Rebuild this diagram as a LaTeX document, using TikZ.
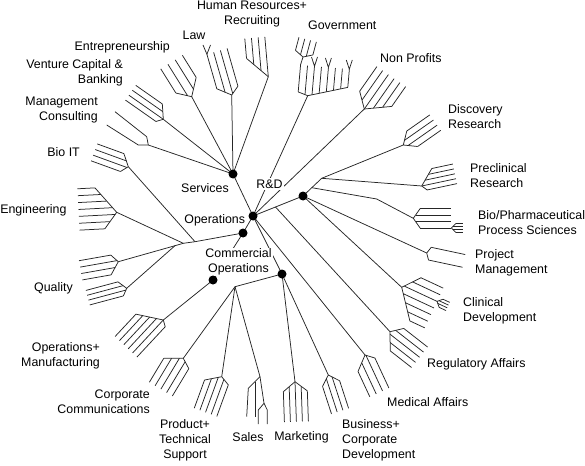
\documentclass[tikz,border=0pt]{standalone}
\usepackage{fontspec}
\setmainfont{Liberation Sans}
\usetikzlibrary{calc}
\tikzset{
  tree/.style={line width=0.75pt, black!85, line join=round},
  dot/.style={circle, fill=black, inner sep=0pt, minimum size=9pt},
  lbl/.style={font=\fontsize{12.4}{15}\selectfont, inner sep=0pt},
  cover/.style={fill=white, inner sep=1.2pt}
}
% #1 name, #2 x, #3 y, #4 leaf angle, #5 leaves, #6 spacing, #7 centre index, #8 spine slope, #9 tip distance
\newcommand\fan[9]{%
  \coordinate (#1) at (#2,#3);%
  \pgfmathsetmacro\fanUx{cos(#4)}%
  \pgfmathsetmacro\fanUy{-sin(#4)}%
  \pgfmathsetmacro\fanVx{-sin(#4)}%
  \pgfmathsetmacro\fanVy{-cos(#4)}%
  \pgfmathsetmacro\fanPa{(0-#7)*#6}%
  \pgfmathsetmacro\fanPb{(#5-1-#7)*#6}%
  \pgfmathsetmacro\fanAa{#8*abs(\fanPa)}%
  \pgfmathsetmacro\fanAb{#8*abs(\fanPb)}%
  \draw[tree] ({#2+\fanAa*\fanUx+\fanPa*\fanVx},{#3+\fanAa*\fanUy+\fanPa*\fanVy}) -- (#1) -- ({#2+\fanAb*\fanUx+\fanPb*\fanVx},{#3+\fanAb*\fanUy+\fanPb*\fanVy});%
  \foreach \fanI in {1,...,#5}{%
    \pgfmathsetmacro\fanP{(\fanI-1-#7)*#6}%
    \pgfmathsetmacro\fanA{#8*abs(\fanP)}%
    \draw[tree] ({#2+\fanA*\fanUx+\fanP*\fanVx},{#3+\fanA*\fanUy+\fanP*\fanVy}) -- ({#2+#9*\fanUx+\fanP*\fanVx},{#3+#9*\fanUy+\fanP*\fanVy});%
  }%
}
\begin{document}
\begin{tikzpicture}[x=1pt,y=-1pt]
\useasboundingbox (0,0) rectangle (585,465);
% inner nodes
\coordinate (C0) at (253,216);
\coordinate (S) at (233,174);
\coordinate (R) at (303,196);
\coordinate (O) at (243,233);
\coordinate (CO) at (282,274);
\coordinate (M) at (213,280);
\coordinate (B1) at (321.7,178.3);
\coordinate (P1) at ($(C0)!0.45!(R)$);
\coordinate (P2) at ($(R)!0.47!(B1)$);
\coordinate (BP1) at (376.7,199);
\coordinate (Q1) at (195,241.7);
\coordinate (Q2) at (183.3,243.3);
\coordinate (Q3) at (175,245.7);
\coordinate (K) at (235,286.7);

% leaf clusters
\fan{jEnt}{191.7}{96.7}{122}{4}{8.5}{1.65}{1.0}{40}
\fan{jLaw}{231.7}{95}{106}{4}{7}{1.2}{0.8}{46}
\fan{jHR}{268.3}{76.7}{95}{4}{6.7}{0}{1.0}{40}
\fan{jGov}{307.7}{95.7}{85}{8}{7}{5.6}{0.3}{30}
\fan{jGovB}{303}{57}{75}{4}{6}{1.5}{0.5}{18}
\fan{jNP}{364.3}{109}{55}{6}{7}{3}{0.85}{42}
\fan{jDisc}{403.3}{145}{35}{4}{6.3}{1.5}{1.15}{39}
\fan{jPre}{421.7}{186}{12}{5}{5}{1}{0.9}{35}
\fan{jBio}{413.3}{218.3}{0}{4}{6.5}{1.5}{0.7}{38}
\fan{jBioB}{451.3}{228}{0}{4}{3}{1.5}{1}{12}
\fan{jPM}{426.7}{253}{-12}{2}{13}{0.5}{0.5}{38}
\fan{jCD}{401.7}{287.3}{-25}{7}{7.3}{3.7}{0.8}{38}
\fan{jCDB}{437}{301.4}{-25}{4}{3}{1.5}{1}{12}
\fan{jRA}{390}{331.7}{-38}{5}{6.5}{2.3}{0.8}{39}
\fan{jMA}{365}{355}{-65}{4}{7}{1.9}{0.9}{40}
\fan{jBus}{328.3}{375}{-72}{4}{6}{1.5}{1.0}{38}
\fan{jMkt}{295}{381.7}{-88}{5}{6}{2}{0.8}{40}
\fan{jProd}{221.7}{376.7}{-110}{5}{6}{2.5}{0.6}{39}
\fan{jCC}{183.3}{358.3}{-121}{5}{6.7}{2.5}{0.6}{38}
\fan{jOM}{163.3}{320}{227}{6}{6}{4}{0.6}{45}
\fan{jQa}{118.3}{261.7}{190}{4}{6.5}{1.2}{0.8}{38.5}
\fan{jQb}{126.7}{288.3}{195}{4}{5}{1.7}{0.8}{40}
\fan{jEng}{116.7}{212.3}{183}{7}{6.9}{3.7}{0.8}{38}
\fan{jBIT}{128.3}{166.7}{160}{4}{6}{1.8}{0.8}{37}
\fan{jVC}{163.3}{119.3}{145}{4}{6}{2}{0.8}{42}

% Management consulting
\coordinate (jMC) at (148.3,145);
\draw[tree] (jMC) -- (146.7,136.7) -- (115,111.7);
\draw[tree] (jMC) -- (138.3,145) -- (106.7,125);
% Sales
\coordinate (jSal) at (260,376.7);
\coordinate (jSalB) at (264,403.3);
\draw[tree] (jSal) -- (248.3,388.3) -- (246.7,416.7);
\draw[tree] (255,381.7) -- (255,416.7);
\draw[tree] (jSal) -- (jSalB) -- (258.3,410) -- (258.3,424);
\draw[tree] (jSalB) -- (267.3,410) -- (267.3,424);
% small forks
\draw[tree] (300.5,64.9) -- (jGovB);
\draw[tree] (311.5,57) -- (314.5,66.2) -- (317.5,57);
\draw[tree] (325.4,58) -- (328.4,67.4) -- (331.4,58);
\draw[tree] (346.3,60) -- (349.3,69.2) -- (352.3,60);
\draw[tree] (203,45) -- (206.9,54.25) -- (210.5,45);

% stems
\draw[tree] (C0) -- (S);
\draw[tree] (S) -- (jEnt);
\draw[tree] (S) -- (jLaw);
\draw[tree] (S) -- (jHR);
\draw[tree] (S) -- (jVC);
\draw[tree] (S) -- (jMC);
\draw[tree] (C0) -- (jGov);
\draw[tree] (C0) -- (jNP);
\draw[tree] (C0) -- (R);
\draw[tree] (P1) -- (jRA);
\draw[tree] (C0) -- (jMA);
\draw[tree] (C0) -- (CO);
\draw[tree] (C0) -- (O);
\draw[tree] (R) -- (B1);
\draw[tree] (B1) -- (jDisc);
\draw[tree] (B1) -- (jPre);
\draw[tree] (P2) -- (BP1) -- (jBio);
\draw[tree] (R) -- (jPM);
\draw[tree] (R) -- (jCD);
\draw[tree] (O) -- (Q1) -- (Q2) -- (Q3);
\draw[tree] (Q1) -- (jBIT);
\draw[tree] (Q2) -- (jEng);
\draw[tree] (Q3) -- (jQa);
\draw[tree] (Q3) -- (jQb);
\draw[tree] (O) -- (M);
\draw[tree] (M) -- (jOM);
\draw[tree] (CO) -- (K);
\draw[tree] (K) -- (jCC);
\draw[tree] (K) -- (jProd);
\draw[tree] (K) -- (jSal);
\draw[tree] (CO) -- (jMkt);
\draw[tree] (CO) -- (jBus);

% labels
\node[lbl, align=center] (tHR) at (252,14.5) {Human Resources+\\Recruiting};
\node[lbl, anchor=west] (tGov) at (308,25) {Government};
\node[lbl, anchor=west] (tNP) at (380,58) {Non Profits};
\node[lbl] (tLaw) at (194,35) {Law};
\node[lbl, anchor=east] (tEnt) at (170,47) {Entrepreneurship};
\node[lbl, anchor=east, align=right] (tVC) at (123,72.5) {Venture Capital \&\\Banking};
\node[lbl, anchor=east, align=right] (tMC) at (98,110.5) {Management\\Consulting};
\node[lbl, anchor=east] (tBIT) at (80,151.7) {Bio IT};
\node[lbl, anchor=east] (tEng) at (66.7,210) {Engineering};
\node[lbl, anchor=east] (tQ) at (73,288.3) {Quality};
\node[lbl, anchor=east, align=right] (tOM) at (100,355.5) {Operations+\\Manufacturing};
\node[lbl, anchor=east, align=right] (tCC) at (150,401.3) {Corporate\\Communications};
\node[lbl, align=center] (tProd) at (185,440.7) {Product+\\Technical\\Support};
\node[lbl] (tSal) at (248,436.7) {Sales};
\node[lbl] (tMkt) at (301.5,437) {Marketing};
\node[lbl, anchor=west, align=left] (tBus) at (342,440) {Business+\\Corporate\\Development};
\node[lbl, anchor=west] (tMA) at (387,401.7) {Medical Affairs};
\node[lbl, anchor=west] (tRA) at (427,364) {Regulatory Affairs};
\node[lbl, anchor=west, align=left] (tCD) at (463,310.5) {Clinical\\Development};
\node[lbl, anchor=west, align=left] (tPM) at (475,262.5) {Project\\Management};
\node[lbl, anchor=west, align=left] (tBio) at (478,222.5) {Bio/Pharmaceutical\\Process Sciences};
\node[lbl, anchor=west, align=left] (tPre) at (470,176) {Preclinical\\Research};
\node[lbl, anchor=west, align=left] (tDisc) at (448,116.7) {Discovery\\Research};
\node[lbl] (tS) at (205,188) {Services};
\node[lbl, cover] (tRD) at (269.5,184) {R\&D};
\node[lbl] (tO) at (214.7,220) {Operations};
\node[lbl, cover, align=center] (tCO) at (238.5,262) {Commercial\\Operations};

% dots
\foreach \n in {C0,S,R,O,CO,M} \node[dot] (d\n) at (\n) {};
\end{tikzpicture}
\end{document}
